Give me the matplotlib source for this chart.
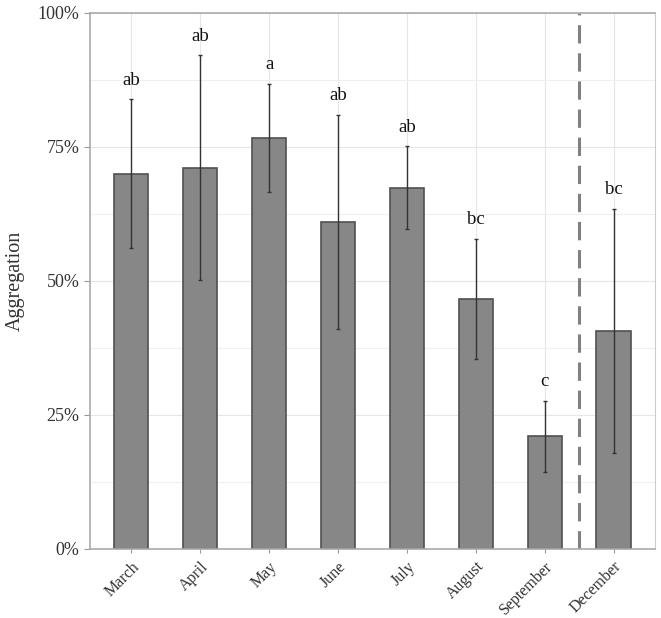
import matplotlib
matplotlib.use("Agg")
import matplotlib.pyplot as plt
from matplotlib.ticker import MultipleLocator, FuncFormatter

months = ["March", "April", "May", "June", "July", "August", "September", "December"]
means = [70.0, 71.1, 76.7, 61.0, 67.4, 46.6, 21.0, 40.7]
errors = [13.9, 21.0, 10.1, 20.0, 7.7, 11.2, 6.6, 22.8]
letters = ["ab", "ab", "a", "ab", "ab", "bc", "c", "bc"]

plt.rcParams['font.family'] = ['Liberation Serif', 'DejaVu Serif']

fig = plt.figure(figsize=(6.61, 6.18), dpi=100)
ax = fig.add_axes([0.136, 0.112, 0.855, 0.867])

x = list(range(len(months)))
ax.set_axisbelow(True)
ax.grid(True, which='major', color='#e6e6e6', lw=0.8)
ax.grid(True, which='minor', axis='y', color='#efefef', lw=0.8)

ax.bar(x, means, width=0.5, color='#878787', edgecolor='#505050', linewidth=1.2, zorder=2)
ax.errorbar(x, means, yerr=errors, fmt='none', ecolor='#333333', elinewidth=1.0,
            capsize=1.5, capthick=1.0, zorder=3)
for xi, m, e, l in zip(x, means, errors, letters):
    ax.text(xi, m + e + 2.0, l, ha='center', va='bottom', fontsize=13.5, color='#111111')

ax.axvline(6.5, color='#808080', lw=2.2, ls=(0, (6, 3.2)), zorder=1)

ax.set_xlim(-0.6, 7.6)
ax.set_ylim(0, 100)
ax.yaxis.set_major_locator(MultipleLocator(25))
ax.yaxis.set_minor_locator(MultipleLocator(12.5))
ax.yaxis.set_major_formatter(FuncFormatter(lambda v, p: f"{int(v)}%"))
ax.set_xticks(x)
ax.set_xticklabels(months, rotation=45, ha='right', rotation_mode='anchor', fontsize=11.5)
ax.tick_params(axis='y', which='major', labelsize=13, length=4, color='#999999', labelcolor='#333333')
ax.tick_params(axis='y', which='minor', length=0)
ax.tick_params(axis='x', length=3, color='#999999', labelcolor='#333333', pad=4)
ax.set_ylabel("Aggregation", fontsize=14.5, color='#333333', labelpad=9)

for s in ['left', 'bottom', 'top']:
    ax.spines[s].set_color('#aaaaaa')
    ax.spines[s].set_linewidth(1.2)
ax.spines['right'].set_color('#cccccc')

fig.savefig("out.png", dpi=100)
